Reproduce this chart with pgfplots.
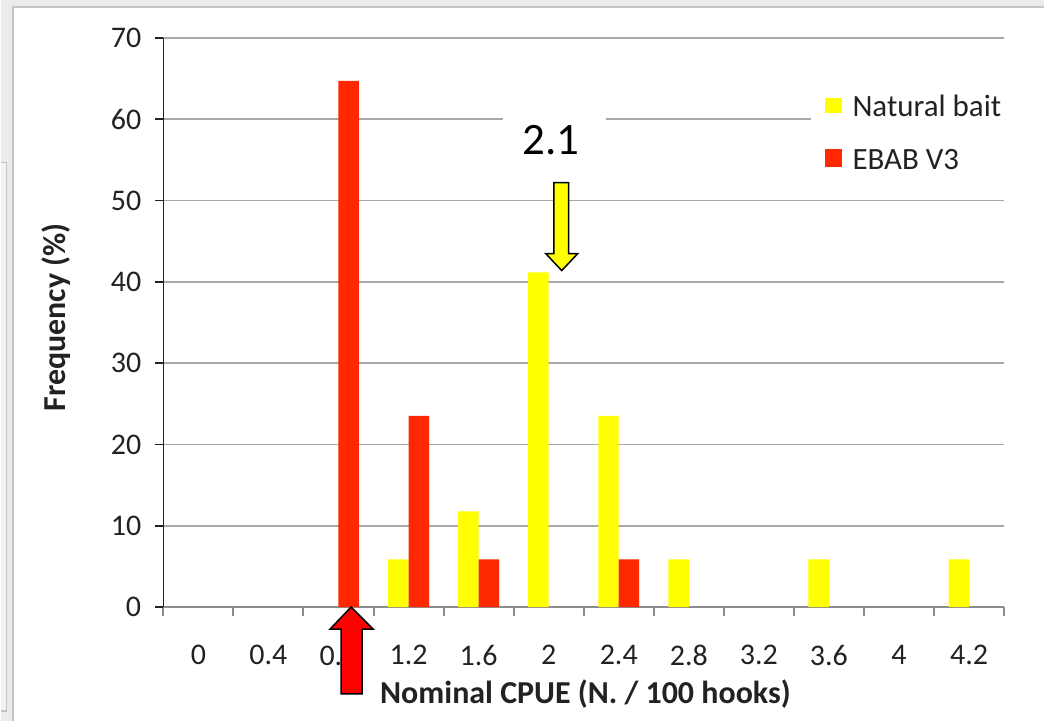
\documentclass[border=0pt]{standalone}
\usepackage{pgfplots}
\pgfplotsset{compat=1.18}
\usepackage{fontspec}
\setmainfont{Carlito}

\definecolor{natbait}{RGB}{255,255,0}
\definecolor{ebab}{RGB}{255,40,0}
\definecolor{arrowred}{RGB}{255,0,0}
\definecolor{gridgray}{RGB}{168,168,168}
\definecolor{framegray}{RGB}{235,235,235}
\definecolor{edgegray}{RGB}{196,196,196}
\definecolor{txt}{RGB}{34,34,34}

\begin{document}
\begin{tikzpicture}[x=1pt,y=1pt]
% window frame of the screenshot
\fill[framegray] (-163,-114) rectangle (882,608);
\fill[white] (-151,-114) rectangle (882,601);
\fill[black!5] (-163,-104) rectangle (-157,445);
\draw[edgegray,line width=1.2pt] (-163,445) -- (-157,445) -- (-157,-104) -- (-163,-104);
\draw[edgegray,line width=2pt] (-151,-114) -- (-151,601) -- (882,601);

\begin{axis}[
    at={(0,0)}, anchor=south west,
    scale only axis,
    width=842pt, height=570pt,
    xmin=-0.5, xmax=11.5,
    ymin=0, ymax=70,
    axis x line*=bottom,
    axis y line*=left,
    x axis line style={draw=black!45, line width=2.4pt},
    y axis line style={draw=txt, line width=1.6pt},
    xtick={0,...,11},
    xticklabels={0,0.4,0.8,1.2,1.6,2,2.4,2.8,3.2,3.6,4,4.2},
    minor xtick={-0.5,0.5,...,11.5},
    ytick={0,10,...,70},
    tick align=outside,
    major tick length=8pt,
    minor tick length=9pt,
    major x tick style={draw=none},
    minor x tick style={draw=black!45, line width=2pt},
    major y tick style={draw=txt, line width=1.6pt},
    ymajorgrids=true,
    grid style={draw=gridgray, line width=1.5pt},
    /pgf/number format/assume math mode=true,
    ticklabel style={font=\fontsize{30}{36}\selectfont, text=txt, inner sep=0pt},
    yticklabel style={anchor=east, xshift=-14pt},
    xticklabel style={anchor=north, yshift=-30pt},
    xlabel={\textbf{Nominal CPUE (N. / 100 hooks)}},
    ylabel={\textbf{Frequency (\%)}},
    label style={font=\fontsize{32}{38}\selectfont, text=txt},
    xlabel style={at={(axis description cs:0.502,-0.170)}, anchor=base},
    ylabel style={at={(axis description cs:-0.1164,0.509)}, anchor=base},
]
% Natural bait
\addplot[ybar, fill=natbait, draw=none, bar width=20.5pt, bar shift=-10.25pt]
    coordinates {(3,5.88)(4,11.76)(5,41.18)(6,23.53)(7,5.88)(9,5.88)(11,5.88)};
% EBAB V3
\addplot[ybar, fill=ebab, draw=none, bar width=20.5pt, bar shift=10.25pt]
    coordinates {(2,64.71)(3,23.53)(4,5.88)(6,5.88)};
\end{axis}

% legend
\fill[white] (649,420) rectangle (845,560);
\fill[natbait] (663,495) rectangle (680,510);
\node[anchor=base west, inner sep=0pt, text=txt, font=\fontsize{31}{37}\selectfont] at (690,491) {Natural bait};
\fill[ebab] (663,441) rectangle (680,459);
\node[anchor=base west, inner sep=0pt, text=txt, font=\fontsize{31}{37}\selectfont] at (690,438) {EBAB V3};

% mean marker for natural bait
\fill[white] (340,452) rectangle (443,500);
\node[inner sep=0pt, font=\fontsize{45}{54}\selectfont] at (388.5,468) {2.1};
\filldraw[fill=natbait, draw=black, line width=1.5pt, line join=miter]
    (391,425) -- (406,425) -- (406,354) -- (415,354) -- (399,337) -- (383,354) -- (391,354) -- cycle;

% arrow at the EBAB V3 mode
\filldraw[fill=arrowred, draw=black, line width=1.5pt, line join=miter]
    (188,0) -- (210,-22) -- (199,-22) -- (199,-87) -- (178,-87) -- (178,-22) -- (167,-22) -- cycle;
\end{tikzpicture}
\end{document}
